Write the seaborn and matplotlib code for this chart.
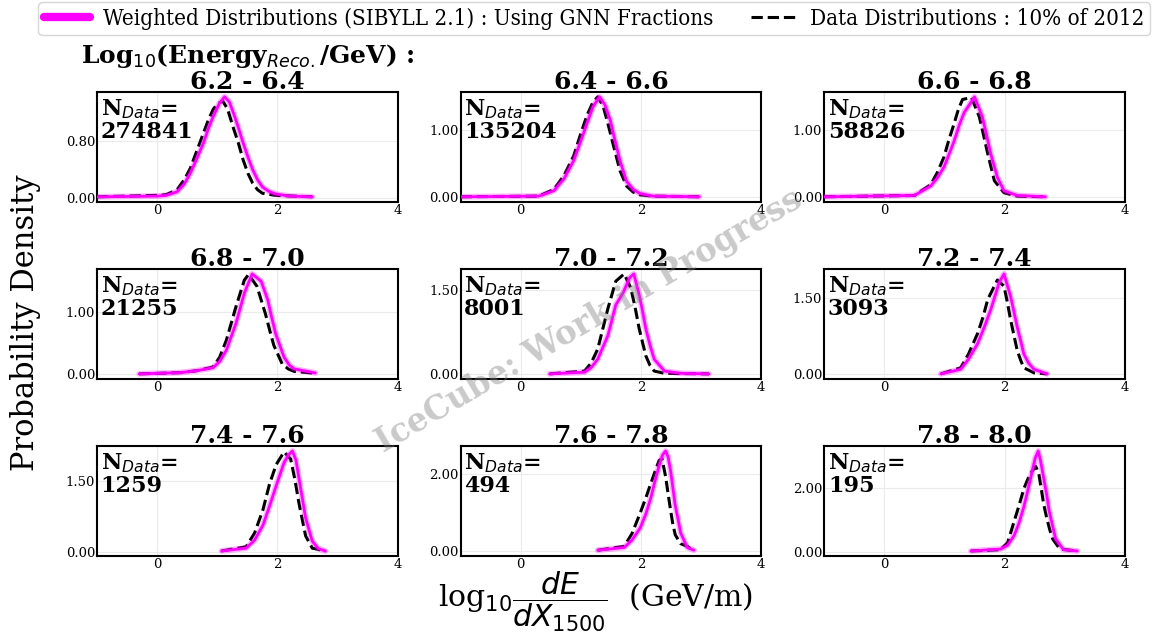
import matplotlib
matplotlib.use("Agg")
import matplotlib.pyplot as plt
from matplotlib.lines import Line2D
from matplotlib import font_manager
import seaborn as sns

# energy bins, event counts and y tick (upper) per panel
ebins = ["6.2 - 6.4", "6.4 - 6.6", "6.6 - 6.8", "6.8 - 7.0", "7.0 - 7.2",
         "7.2 - 7.4", "7.4 - 7.6", "7.6 - 7.8", "7.8 - 8.0"]
n_data = [274841, 135204, 58826, 21255, 8001, 3093, 1259, 494, 195]
ytick_top = [0.8, 1.0, 1.0, 1.0, 1.5, 1.5, 1.5, 2.0, 2.0]

# weighted (SIBYLL 2.1, GNN fractions) curves
sim_x = [
    [-1.0, 0.0, 0.15, 0.33, 0.45, 0.55, 0.66, 0.77, 0.85, 0.93, 1.03, 1.12, 1.2, 1.29, 1.36, 1.43, 1.51, 1.59, 1.67, 1.75, 1.85, 1.97, 2.2, 2.58],
    [-1.0, 0.3, 0.55, 0.72, 0.88, 0.99, 1.1, 1.2, 1.31, 1.4, 1.49, 1.54, 1.65, 1.76, 1.87, 1.98, 2.2, 2.97],
    [-1.0, 0.5, 0.77, 0.88, 0.99, 1.07, 1.16, 1.25, 1.33, 1.42, 1.5, 1.63, 1.7, 1.77, 1.88, 1.99, 2.21, 2.68],
    [-0.3, 0.38, 0.65, 0.93, 1.04, 1.15, 1.31, 1.45, 1.58, 1.73, 1.84, 1.9, 1.97, 2.11, 2.2, 2.28, 2.63],
    [0.48, 1.06, 1.17, 1.28, 1.45, 1.58, 1.7, 1.81, 1.88, 1.97, 2.03, 2.08, 2.15, 2.22, 2.39, 2.66, 3.13],
    [0.94, 1.27, 1.4, 1.55, 1.66, 1.77, 1.91, 1.99, 2.1, 2.21, 2.27, 2.32, 2.4, 2.49, 2.71],
    [1.07, 1.48, 1.62, 1.76, 1.87, 1.98, 2.11, 2.18, 2.25, 2.31, 2.36, 2.42, 2.47, 2.58, 2.68, 2.8],
    [1.28, 1.72, 1.85, 1.99, 2.08, 2.16, 2.23, 2.3, 2.36, 2.41, 2.45, 2.49, 2.53, 2.57, 2.62, 2.66, 2.77, 2.88],
    [1.44, 1.93, 2.05, 2.16, 2.24, 2.32, 2.39, 2.46, 2.51, 2.56, 2.6, 2.65, 2.7, 2.74, 2.8, 2.85, 2.98, 3.21],
]
sim_y = [
    [0.02, 0.03, 0.04, 0.09, 0.20, 0.35, 0.56, 0.78, 0.98, 1.15, 1.33, 1.43, 1.36, 1.15, 0.97, 0.78, 0.58, 0.40, 0.26, 0.16, 0.10, 0.06, 0.03, 0.02],
    [0.01, 0.02, 0.10, 0.28, 0.55, 0.82, 1.10, 1.35, 1.50, 1.38, 1.15, 0.95, 0.55, 0.24, 0.12, 0.06, 0.02, 0.01],
    [0.0, 0.02, 0.16, 0.28, 0.44, 0.62, 0.83, 1.08, 1.26, 1.38, 1.49, 1.19, 0.92, 0.64, 0.29, 0.09, 0.02, 0.0],
    [0.0, 0.02, 0.05, 0.10, 0.20, 0.38, 0.81, 1.30, 1.61, 1.49, 1.19, 0.93, 0.65, 0.27, 0.14, 0.08, 0.015],
    [0.01, 0.04, 0.12, 0.27, 0.69, 1.23, 1.44, 1.71, 1.78, 1.41, 1.10, 0.81, 0.52, 0.27, 0.06, 0.02, 0.01],
    [0.01, 0.10, 0.30, 0.60, 0.92, 1.27, 1.80, 1.97, 1.53, 0.93, 0.65, 0.40, 0.22, 0.10, 0.01],
    [0.02, 0.08, 0.25, 0.57, 0.98, 1.41, 1.90, 2.06, 2.15, 1.95, 1.56, 1.10, 0.72, 0.23, 0.07, 0.02],
    [0.02, 0.09, 0.28, 0.61, 0.96, 1.36, 1.80, 2.21, 2.50, 2.60, 2.45, 2.11, 1.65, 1.18, 0.80, 0.47, 0.09, 0.02],
    [0.02, 0.08, 0.20, 0.51, 0.90, 1.41, 1.95, 2.54, 2.95, 3.17, 2.85, 2.32, 1.80, 1.30, 0.80, 0.40, 0.06, 0.02],
]

# data (10% of 2012) curves
data_x = [
    [-1.0, 0.0, 0.15, 0.33, 0.45, 0.55, 0.66, 0.77, 0.85, 0.93, 1.0, 1.09, 1.17, 1.26, 1.35, 1.43, 1.51, 1.59, 1.67, 1.75, 1.97, 2.58],
    [-1.0, 0.3, 0.55, 0.72, 0.88, 0.99, 1.1, 1.2, 1.28, 1.37, 1.45, 1.54, 1.65, 1.76, 1.87, 1.98, 2.2, 2.97],
    [-1.0, 0.5, 0.77, 0.88, 0.99, 1.07, 1.16, 1.23, 1.3, 1.45, 1.58, 1.65, 1.72, 1.83, 1.99, 2.21, 2.68],
    [-0.3, 0.38, 0.65, 0.93, 1.04, 1.15, 1.31, 1.45, 1.52, 1.66, 1.8, 1.87, 1.94, 2.08, 2.18, 2.28, 2.63],
    [0.48, 1.06, 1.17, 1.28, 1.45, 1.58, 1.72, 1.83, 1.9, 1.97, 2.08, 2.15, 2.22, 2.39, 3.13],
    [0.94, 1.27, 1.4, 1.55, 1.64, 1.72, 1.88, 1.99, 2.04, 2.1, 2.21, 2.27, 2.32, 2.49, 2.71],
    [1.07, 1.48, 1.62, 1.76, 1.87, 1.98, 2.11, 2.22, 2.29, 2.36, 2.42, 2.47, 2.58, 2.8],
    [1.28, 1.72, 1.85, 1.99, 2.08, 2.16, 2.23, 2.3, 2.35, 2.41, 2.45, 2.49, 2.53, 2.57, 2.66, 2.77, 2.88],
    [1.44, 1.93, 2.05, 2.16, 2.24, 2.32, 2.39, 2.46, 2.52, 2.57, 2.61, 2.65, 2.7, 2.75, 2.8, 2.92, 3.21],
]
data_y = [
    [0.02, 0.04, 0.05, 0.12, 0.26, 0.42, 0.67, 0.92, 1.10, 1.25, 1.33, 1.37, 1.26, 1.01, 0.78, 0.54, 0.35, 0.21, 0.12, 0.07, 0.04, 0.02],
    [0.01, 0.02, 0.12, 0.33, 0.62, 0.93, 1.22, 1.42, 1.50, 1.36, 1.10, 0.78, 0.40, 0.17, 0.08, 0.04, 0.02, 0.01],
    [0.0, 0.02, 0.18, 0.36, 0.59, 0.84, 1.09, 1.30, 1.45, 1.48, 1.19, 0.92, 0.64, 0.24, 0.06, 0.01, 0.0],
    [0.0, 0.02, 0.05, 0.11, 0.27, 0.54, 1.08, 1.51, 1.60, 1.41, 0.97, 0.71, 0.46, 0.16, 0.08, 0.04, 0.01],
    [0.01, 0.06, 0.20, 0.45, 1.17, 1.65, 1.78, 1.53, 1.20, 0.81, 0.33, 0.16, 0.06, 0.02, 0.01],
    [0.01, 0.13, 0.40, 0.80, 1.12, 1.47, 1.85, 1.73, 1.45, 1.07, 0.47, 0.27, 0.13, 0.03, 0.01],
    [0.02, 0.11, 0.40, 0.90, 1.45, 1.86, 2.13, 1.98, 1.55, 1.03, 0.65, 0.34, 0.08, 0.02],
    [0.02, 0.12, 0.45, 1.00, 1.38, 1.74, 2.05, 2.35, 2.40, 1.93, 1.50, 1.08, 0.70, 0.42, 0.19, 0.12, 0.0],
    [0.02, 0.06, 0.28, 0.96, 1.45, 1.98, 2.30, 2.54, 2.68, 2.45, 1.98, 1.50, 1.07, 0.70, 0.40, 0.08, 0.02],
]

sns.set_theme(style="whitegrid")
plt.rcParams["font.family"] = ["DejaVu Serif"]
plt.rcParams["mathtext.fontset"] = "dejavusans"
plt.rcParams["text.color"] = "black"
plt.rcParams["axes.labelcolor"] = "black"
plt.rcParams["axes.titlecolor"] = "black"

# condensed serif for the legend if it is around
cond = [f.fname for f in font_manager.fontManager.ttflist
        if "SerifCondensed.ttf" in f.fname]
if cond:
    leg_prop = font_manager.FontProperties(fname=cond[0], size=16)
else:
    leg_prop = font_manager.FontProperties(family="DejaVu Serif", size=14)

fig, axes = plt.subplots(3, 3, figsize=(11.56, 6.42), dpi=100)
fig.subplots_adjust(left=0.084, right=0.973, top=0.857, bottom=0.134,
                    wspace=0.21, hspace=0.61)

for i, ax in enumerate(axes.flat):
    sns.lineplot(x=data_x[i], y=data_y[i], ax=ax, color="black",
                 linestyle="--", linewidth=2.2, zorder=2)
    # light band + line for the weighted distribution
    sns.lineplot(x=sim_x[i], y=sim_y[i], ax=ax, color="magenta",
                 linewidth=4.2, alpha=0.3, zorder=3)
    sns.lineplot(x=sim_x[i], y=sim_y[i], ax=ax, color="magenta",
                 linewidth=2.0, zorder=4)
    ax.set_xlim(-1, 4)
    ax.set_xticks([0, 2, 4])
    ax.set_yticks([0, ytick_top[i]])
    ax.set_yticklabels(["%.2f" % v for v in [0, ytick_top[i]]])
    ax.tick_params(length=0, pad=1.5, labelsize=9.5, colors="black")
    ax.grid(True, color="#ebebeb", linewidth=0.8)
    for s in ax.spines.values():
        s.set_color("black")
        s.set_linewidth(1.5)
    ax.set_xlabel("")
    ax.set_ylabel("")
    if i == 0:
        title = r"Log$_{10}$(Energy$_{Reco.}$/GeV) :" + "\n" + ebins[i]
    else:
        title = ebins[i]
    ax.set_title(title, fontsize=18, fontweight="bold", pad=2, linespacing=1.0)
    ax.text(0.012, 0.95, r"N$_{Data}$=" + "\n" + str(n_data[i]),
            transform=ax.transAxes, ha="left", va="top", fontsize=16,
            fontweight="bold", linespacing=1.0, zorder=5)

fig.text(0.022, 0.497, "Probability Density", rotation=90, fontsize=22,
         ha="center", va="center")
fig.text(0.515, 0.063, r"log$_{10}\dfrac{dE}{dX_{1500}}$  (GeV/m)", fontsize=21.5,
         ha="center", va="center")

fig.text(0.51, 0.501, "IceCube: Work in Progress", rotation=30.5, fontsize=23.5,
         fontweight="bold", color="grey", alpha=0.42, ha="center", va="center",
         zorder=10)

handles = [Line2D([], [], color="magenta", linewidth=6),
           Line2D([], [], color="black", linestyle="--", linewidth=2.2)]
labels = ["Weighted Distributions (SIBYLL 2.1) : Using GNN Fractions",
          "Data Distributions : 10% of 2012"]
fig.legend(handles, labels, loc="lower left", ncol=2, mode="expand",
           bbox_to_anchor=(0.033, 0.945, 0.962, 0.055), prop=leg_prop,
           handlelength=2.1, handletextpad=0.55, borderpad=0.25,
           borderaxespad=0, frameon=True, fancybox=True)

fig.savefig("out.png", dpi=100)
